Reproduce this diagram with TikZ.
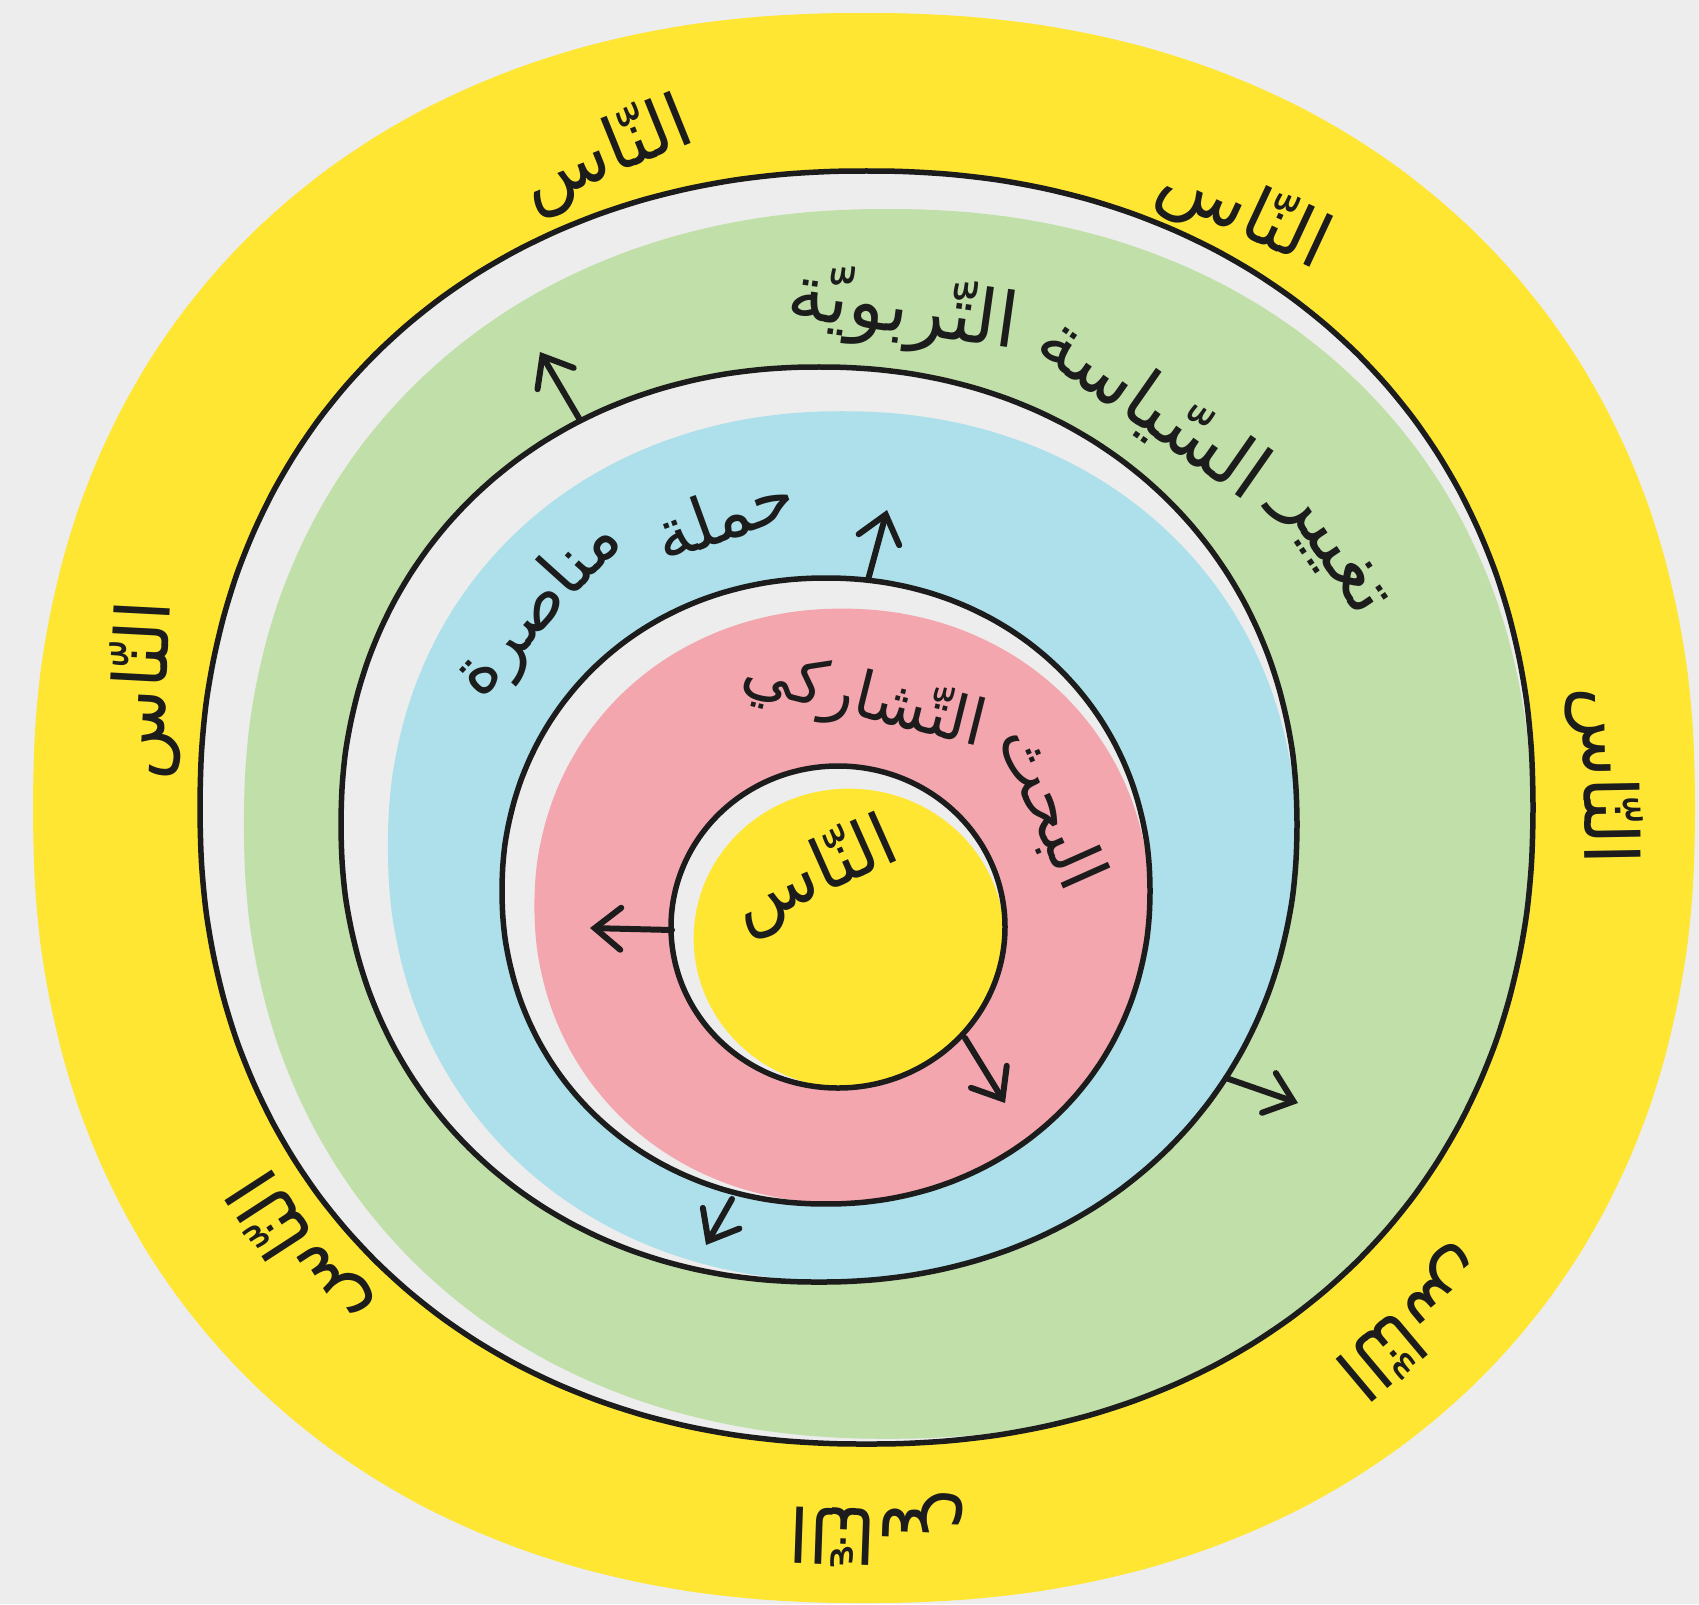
\documentclass[tikz,border=0pt]{standalone}
\usepackage{fontspec}
\newfontfamily\arabicfont[Script=Arabic]{DejaVu Sans}
\TeXXeTstate=1
\usetikzlibrary{arrows.meta}
\definecolor{bgc}{HTML}{EDEDED}
\definecolor{yel}{HTML}{FEE633}
\definecolor{grn}{HTML}{C1DFA8}
\definecolor{blu}{HTML}{ADE0EA}
\definecolor{pnk}{HTML}{F4A6AE}
\definecolor{ink}{HTML}{1C1C1C}
\newcommand\ar[1]{\beginR #1\endR}
% superellipse outlines: centre, radii, exponent
\def\Ypath{plot[smooth cycle, domain=0:356, samples=90, variable=\t]
  ({864+831*sign(cos(\t))*pow(abs(cos(\t))+0.00001,0.91)},{808+795*sign(sin(\t))*pow(abs(sin(\t))+0.00001,0.91)})}
\def\Gpath{plot[smooth cycle, domain=0:356, samples=90, variable=\t]
  ({866.5+666.5*sign(cos(\t))*pow(abs(cos(\t))+0.00001,0.93)},{807.5+636.5*sign(sin(\t))*pow(abs(sin(\t))+0.00001,0.93)})}
\def\Bpath{plot[smooth cycle, domain=0:356, samples=90, variable=\t]
  ({819+478*sign(cos(\t))*pow(abs(cos(\t))+0.00001,0.95)},{824.5+457.5*sign(sin(\t))*pow(abs(sin(\t))+0.00001,0.95)})}
\def\Ppath{plot[smooth cycle, domain=0:356, samples=90, variable=\t]
  ({826+324*sign(cos(\t))*pow(abs(cos(\t))+0.00001,0.97)},{891+313*sign(sin(\t))*pow(abs(sin(\t))+0.00001,0.97)})}
\def\Ipath{(838,927) ellipse [x radius=167, y radius=161]}
\tikzset{
  outline/.style={draw=ink, line width=5.5pt},
  arr/.style={draw=ink, line width=6pt, line cap=round, -{Straight Barb[length=26pt,width=42pt,line cap=round]}},
  lab/.style={text=ink, inner sep=0pt, font=\arabicfont\fontsize{#1pt}{#1pt}\selectfont},
  lab/.default=72,
}
\begin{document}
\begin{tikzpicture}[x=1pt,y=-1pt]
\useasboundingbox (0,0) rectangle (1699,1604);
\fill[bgc] (0,0) rectangle (1699,1604);
\fill[yel] \Ypath;
% green ring
\begin{scope}
  \clip \Gpath;
  \fill[bgc] (0,0) rectangle (1699,1604);
  \fill[grn, scale around={0.966:(1490,1290)}] \Gpath;
\end{scope}
\draw[outline] \Gpath;
% blue ring
\begin{scope}
  \clip \Bpath;
  \fill[bgc] (0,0) rectangle (1699,1604);
  \fill[blu, scale around={0.951:(1297,1270)}] \Bpath;
\end{scope}
\draw[outline] \Bpath;
% pink ring
\begin{scope}
  \clip \Ppath;
  \fill[bgc] (0,0) rectangle (1699,1604);
  \fill[pnk, scale around={0.95:(1150,1190)}] \Ppath;
\end{scope}
\draw[outline] \Ppath;
% inner circle
\begin{scope}
  \clip \Ipath;
  \fill[bgc] (0,0) rectangle (1699,1604);
  \fill[yel, scale around={0.93:(995,1090)}] \Ipath;
\end{scope}
\draw[outline] \Ipath;
% arrows
\coordinate (a1s) at (672,930);  \coordinate (a1e) at (590,928);
\coordinate (a2s) at (965,1038); \coordinate (a2e) at (1005,1103);
\coordinate (a3s) at (868,580);  \coordinate (a3e) at (887,510);
\coordinate (a4s) at (732,1199); \coordinate (a4e) at (706,1245);
\coordinate (a5s) at (580,420);  \coordinate (a5e) at (540,352);
\coordinate (a6s) at (1226,1078);\coordinate (a6e) at (1298,1103);
\draw[arr] (a1s) -- (a1e);
\draw[arr] (a2s) -- (a2e);
\draw[arr] (a3s) -- (a3e);
\draw[arr] (a4s) -- (a4e);
\draw[arr] (a5s) -- (a5e);
\draw[arr] (a6s) -- (a6e);
% outer labels
\node[lab=74, rotate=22]   (o1) at (607,155)  {\ar{النّاس}};
\node[lab=74, rotate=-25]  (o2) at (1244,214) {\ar{النّاس}};
\node[lab=74, rotate=87]   (o3) at (146,690)  {\ar{النّاس}};
\node[lab=74, rotate=-89]  (o4) at (1604,776) {\ar{النّاس}};
\node[lab=74, rotate=123]  (o5) at (300,1250) {\ar{النّاس}};
\node[lab=74, rotate=178]  (o6) at (878,1530) {\ar{النّاس}};
\node[lab=74, rotate=-140] (o7) at (1412,1322){\ar{النّاس}};
% green ring text
\node[lab=76, rotate=-8]   (g1) at (903,312)  {\ar{التّربويّة}};
\node[lab=76, rotate=-35]  (g2) at (1153,408) {\ar{السّياسة}};
\node[lab=76, rotate=-56]  (g3) at (1328,553) {\ar{تغيير}};
% blue ring text
\node[lab=70, rotate=20]   (b1) at (724,514)  {\ar{حملة}};
\node[lab=70, rotate=48]   (b2) at (539,609)  {\ar{مناصرة}};
% pink ring text
\node[lab=64, rotate=-14]  (p1) at (864,700)  {\ar{التّشاركي}};
\node[lab=68, rotate=-66]  (p2) at (1050,808) {\ar{البحث}};
% inner text
\node[lab=72, rotate=24]   (c1) at (815,876)  {\ar{النّاس}};
\end{tikzpicture}
\end{document}
